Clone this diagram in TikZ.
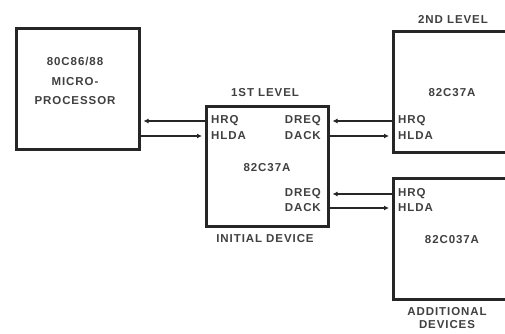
\documentclass[tikz,border=0pt]{standalone}
\usepackage{fontspec}
\setmainfont{Liberation Sans}[LetterSpace=8]
\usetikzlibrary{arrows.meta}
\begin{document}
\begin{tikzpicture}[x=1pt,y=-1pt,
  box/.style={draw=black!85, line width=2.5pt, anchor=north west, inner sep=0pt},
  lbl/.style={font=\bfseries\fontsize{11.5}{13}\selectfont, text=black!75, inner sep=0pt},
  conn/.style={draw=black!85, line width=1.5pt, shorten >=3pt},
  tip/.style={-{Latex[length=5pt,width=5pt]}}]
\clip (0,0) rectangle (505,333);
% boxes
\node[box, minimum width=123pt, minimum height=121pt] (m) at (15,27) {};
\node[box, minimum width=122pt, minimum height=120pt] (f) at (205,105) {};
\node[box, minimum width=125pt, minimum height=121pt] (s) at (392,30) {};
\node[box, minimum width=125pt, minimum height=121pt] (d) at (392,177) {};
% microprocessor text
\node[lbl, align=center, font=\bfseries\fontsize{11.5}{19.5}\selectfont] (mt) at (75,81) {80C86/88\\MICRO-\\PROCESSOR};
% first level
\node[lbl] (fl) at (265,93) {1ST LEVEL};
\node[lbl] (fi) at (265,239) {INITIAL DEVICE};
\node[lbl] (fc) at (267,168) {82C37A};
\node[lbl, anchor=west] (hrqA) at (211,121) {HRQ};
\node[lbl, anchor=west] (hldaA) at (211,136) {HLDA};
\node[lbl, anchor=east] (dreqA) at (321,121) {DREQ};
\node[lbl, anchor=east] (dackA) at (321,136) {DACK};
\node[lbl, anchor=east] (dreqB) at (321,194) {DREQ};
\node[lbl, anchor=east] (dackB) at (321,208) {DACK};
% second level
\node[lbl] (sl) at (453,19) {2ND LEVEL};
\node[lbl] (sc) at (452,93) {82C37A};
\node[lbl, anchor=west] (hrqS) at (398,121) {HRQ};
\node[lbl, anchor=west] (hldaS) at (398,136) {HLDA};
% additional devices
\node[lbl] (dc) at (452,240) {82C037A};
\node[lbl, align=center] (dl) at (447,318) {ADDITIONAL\\DEVICES};
\node[lbl, anchor=west] (hrqD) at (398,194) {HRQ};
\node[lbl, anchor=west] (hldaD) at (398,208) {HLDA};
% connectors
\draw[conn,tip] (f.west |- hrqA) -- (m.east |- hrqA);
\draw[conn,tip] (m.east |- hldaA) -- (f.west |- hldaA);
\draw[conn,tip] (s.west |- dreqA) -- (f.east |- dreqA);
\draw[conn,tip] (f.east |- dackA) -- (s.west |- dackA);
\draw[conn,tip] (d.west |- dreqB) -- (f.east |- dreqB);
\draw[conn,tip] (f.east |- dackB) -- (d.west |- dackB);
\end{tikzpicture}
\end{document}
